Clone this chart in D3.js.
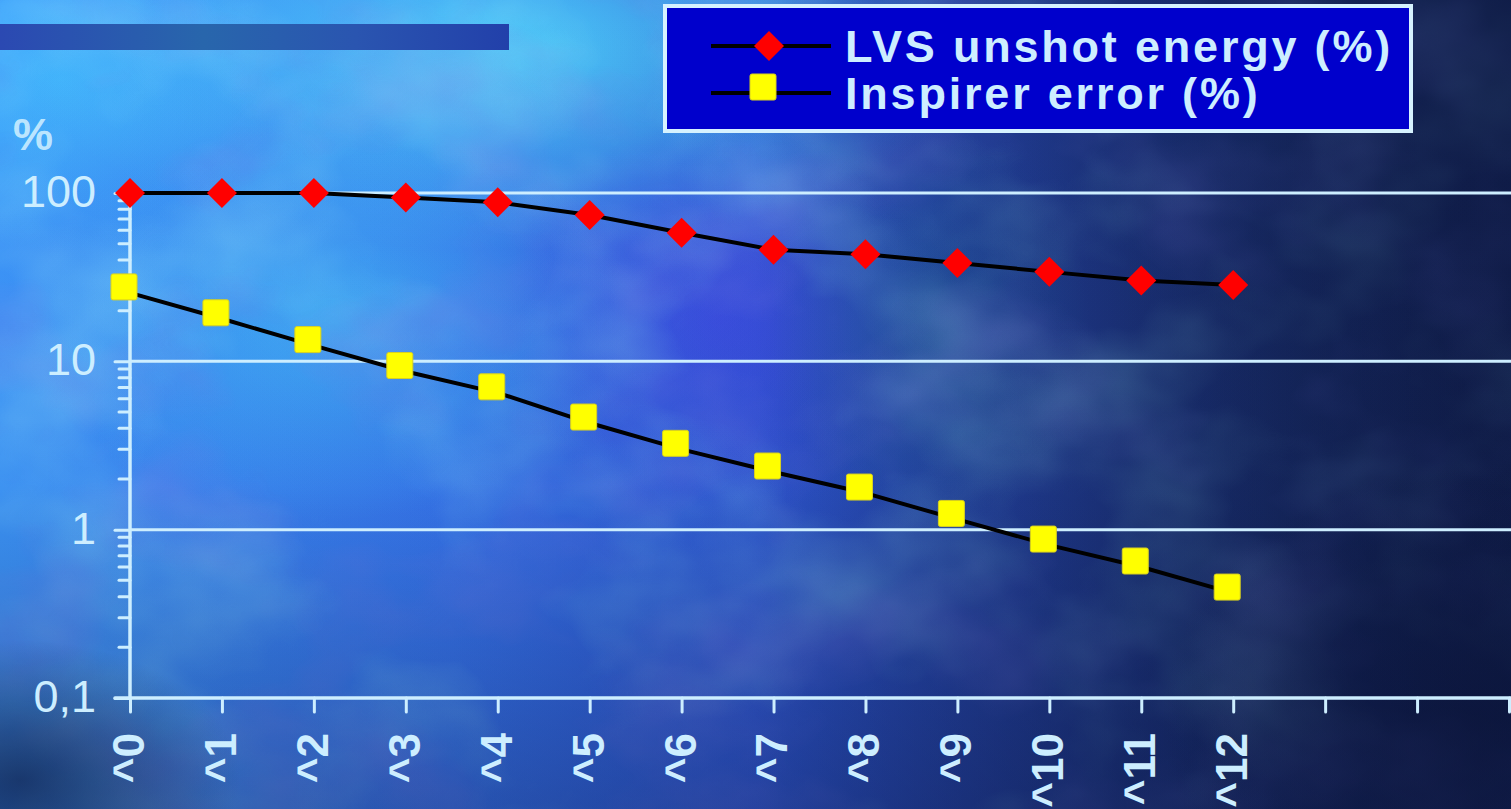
<!DOCTYPE html>
<html>
<head>
<meta charset="utf-8">
<script src="https://cdn.jsdelivr.net/npm/d3@7"></script>
<style>
  html, body { margin: 0; padding: 0; overflow: hidden; background: #2a5ad8; }
  svg { display: block; }
</style>
</head>
<body>
<svg id="chart" width="1511" height="809"></svg>
<script>
// ---- data ----
const categories = ["^0", "^1", "^2", "^3", "^4", "^5", "^6", "^7", "^8", "^9", "^10", "^11", "^12"];
const slotCount = 15; // category slots on the x axis (the last ones are empty)
const lvsUnshotEnergy = [100, 100, 100, 94, 88, 74, 58, 46, 43.3, 38.4, 34, 30.2, 28.4];
const inspirerError = [25.5, 17.9, 12.4, 8.7, 6.5, 4.3, 3.0, 2.2, 1.65, 1.15, 0.81, 0.60, 0.42];
const yTickValues = [0.1, 1, 10, 100];
const yTickLabels = ["0,1", "1", "10", "100"];
const seriesNames = ["LVS unshot energy (%)", "Inspirer error (%)"];
const yUnit = "%";

// ---- layout ----
const W = 1511, H = 809;
const plot = { left: 130, right: 1509, top: 193, bottom: 698 };
const light = "#cdeeff";
const font = "'Liberation Sans', Arial, Helvetica, sans-serif";
const squareShift = -6;   // square markers sit slightly up-left of their points

const svg = d3.select("#chart");
const defs = svg.append("defs");

// ---- background ----
const base = defs.append("linearGradient").attr("id", "bgBase")
  .attr("x1", 0).attr("y1", 0).attr("x2", 1).attr("y2", 0);
[[0, "#3d96fa"], [0.3, "#3878f2"], [0.5, "#2f5ad8"], [0.68, "#2544a6"], [0.85, "#1a3070"], [1, "#101b45"]]
  .forEach(([o, c]) => base.append("stop").attr("offset", o).attr("stop-color", c));

const vshade = defs.append("linearGradient").attr("id", "vShade")
  .attr("x1", 0).attr("y1", 0).attr("x2", 0).attr("y2", 1);
[[0, "#0a1540", 0], [0.6, "#0a1540", 0.05], [1, "#0a1540", 0.35]]
  .forEach(([o, c, a]) => vshade.append("stop").attr("offset", o).attr("stop-color", c).attr("stop-opacity", a));

function glow(id, color, op) {
  const g = defs.append("radialGradient").attr("id", id);
  g.append("stop").attr("offset", 0).attr("stop-color", color).attr("stop-opacity", op);
  g.append("stop").attr("offset", 1).attr("stop-color", color).attr("stop-opacity", 0);
}
glow("glowCyan", "#4fd6ff", 0.95);
glow("glowCyanSoft", "#46c6ff", 0.65);
glow("glowViolet", "#4848f2", 0.55);
glow("glowNavy", "#0b1438", 0.6);
glow("glowTeal", "#2a7aa8", 0.45);

const fCyan = defs.append("filter").attr("id", "cloudCyan")
  .attr("x", 0).attr("y", 0).attr("width", 1).attr("height", 1);
fCyan.append("feTurbulence").attr("type", "fractalNoise")
  .attr("baseFrequency", "0.0045 0.006").attr("numOctaves", 4).attr("seed", 7);
fCyan.append("feColorMatrix").attr("type", "matrix")
  .attr("values", "0 0 0 0 0.3  0 0 0 0 0.8  0 0 0 0 1  2.6 0 0 0 -1.15");

const fViolet = defs.append("filter").attr("id", "cloudViolet")
  .attr("x", 0).attr("y", 0).attr("width", 1).attr("height", 1);
fViolet.append("feTurbulence").attr("type", "fractalNoise")
  .attr("baseFrequency", "0.005 0.007").attr("numOctaves", 4).attr("seed", 21);
fViolet.append("feColorMatrix").attr("type", "matrix")
  .attr("values", "0 0 0 0 0.2  0 0 0 0 0.22  0 0 0 0 0.85  0 2.6 0 0 -1.2");

const rightFade = defs.append("linearGradient").attr("id", "rightFade")
  .attr("x1", 0).attr("y1", 0).attr("x2", 1).attr("y2", 0);
[[0, 0], [0.5, 0.05], [0.75, 0.4], [1, 0.75]]
  .forEach(([o, a]) => rightFade.append("stop").attr("offset", o).attr("stop-color", "#0f1c48").attr("stop-opacity", a));

const bg = svg.append("g");
bg.append("rect").attr("width", W).attr("height", H).attr("fill", "url(#bgBase)");
bg.append("ellipse").attr("cx", 500).attr("cy", 50).attr("rx", 480).attr("ry", 200).attr("fill", "url(#glowCyan)");
bg.append("ellipse").attr("cx", 330).attr("cy", 320).attr("rx", 300).attr("ry", 200).attr("fill", "url(#glowCyanSoft)");
bg.append("ellipse").attr("cx", 60).attr("cy", 80).attr("rx", 220).attr("ry", 170).attr("fill", "url(#glowCyanSoft)");
bg.append("ellipse").attr("cx", 720).attr("cy", 320).attr("rx", 220).attr("ry", 200).attr("fill", "url(#glowViolet)");
bg.append("ellipse").attr("cx", 930).attr("cy", 330).attr("rx", 160).attr("ry", 200).attr("fill", "url(#glowTeal)");
bg.append("rect").attr("width", W).attr("height", H).attr("filter", "url(#cloudCyan)").attr("opacity", 0.35);
bg.append("rect").attr("width", W).attr("height", H).attr("filter", "url(#cloudViolet)").attr("opacity", 0.35);
bg.append("rect").attr("width", W).attr("height", H).attr("fill", "url(#rightFade)");
bg.append("rect").attr("width", W).attr("height", H).attr("fill", "url(#vShade)");
bg.append("ellipse").attr("cx", 1480).attr("cy", 720).attr("rx", 320).attr("ry", 260).attr("fill", "url(#glowNavy)");
bg.append("ellipse").attr("cx", 20).attr("cy", 780).attr("rx", 220).attr("ry", 140).attr("fill", "url(#glowNavy)");

// title bar at top-left
const bar = defs.append("linearGradient").attr("id", "titleBar")
  .attr("x1", 0).attr("y1", 0).attr("x2", 1).attr("y2", 0);
[[0, "#2b49b2"], [0.4, "#2866ac"], [0.7, "#2a55b0"], [1, "#2240aa"]]
  .forEach(([o, c]) => bar.append("stop").attr("offset", o).attr("stop-color", c));
svg.append("rect").attr("x", 0).attr("y", 24).attr("width", 509).attr("height", 26).attr("fill", "url(#titleBar)");

// ---- scales ----
const x = d3.scaleLinear().domain([0, slotCount]).range([plot.left, plot.right]);
const y = d3.scaleLog().domain([0.1, 100]).range([plot.bottom, plot.top]);

// ---- gridlines ----
svg.append("g").selectAll("line")
  .data(yTickValues.filter(v => v > 0.1))
  .join("line")
  .attr("x1", plot.left).attr("x2", W)
  .attr("y1", d => y(d)).attr("y2", d => y(d))
  .attr("stroke", light).attr("stroke-width", 3);

// ---- y axis ----
const yAxis = svg.append("g").attr("transform", `translate(${plot.left},0)`)
  .call(d3.axisLeft(y).tickValues(yTickValues)
    .tickFormat((d, i) => yTickLabels[i]).tickSize(15).tickSizeOuter(0).tickPadding(19));
yAxis.select(".domain").remove();
yAxis.selectAll(".tick line").attr("stroke", light).attr("stroke-width", 3).attr("stroke-linecap", "round");
yAxis.selectAll(".tick text")
  .attr("fill", light).attr("font-family", font).attr("font-size", 45)
  .attr("dy", "0.3em");

// minor ticks between decades
svg.append("g").selectAll("line")
  .data(y.ticks().filter(v => !yTickValues.some(t => Math.abs(t - v) < 1e-9)))
  .join("line")
  .attr("x1", plot.left - 11).attr("x2", plot.left)
  .attr("y1", d => y(d)).attr("y2", d => y(d))
  .attr("stroke", light).attr("stroke-width", 3).attr("stroke-linecap", "round");

svg.append("line")
  .attr("x1", plot.left).attr("x2", plot.left)
  .attr("y1", plot.top).attr("y2", plot.bottom)
  .attr("stroke", light).attr("stroke-width", 3.5);

// unit label
svg.append("text").attr("x", 13).attr("y", 150)
  .attr("fill", light).attr("fill-opacity", 0.9)
  .attr("font-family", font).attr("font-weight", "bold").attr("font-size", 45)
  .text(yUnit);

// ---- x axis ----
const xAxis = svg.append("g").attr("transform", `translate(0,${plot.bottom})`)
  .call(d3.axisBottom(x).tickValues(d3.range(slotCount + 1))
    .tickFormat(i => categories[i] || "").tickSize(14).tickSizeOuter(0));
xAxis.select(".domain").remove();
xAxis.selectAll(".tick line").attr("stroke", light).attr("stroke-width", 3).attr("stroke-linecap", "round");
xAxis.selectAll(".tick text")
  .attr("fill", light).attr("font-family", font).attr("font-weight", "bold").attr("font-size", 44)
  .attr("text-anchor", "end")
  .attr("transform", "rotate(-90)")
  .attr("x", -35).attr("y", -2).attr("dy", "0.35em");

svg.append("line")
  .attr("x1", plot.left - 15).attr("x2", W)
  .attr("y1", plot.bottom).attr("y2", plot.bottom)
  .attr("stroke", light).attr("stroke-width", 3.5).attr("stroke-linecap", "round");

// ---- series ----
const line = d3.line().x((d, i) => x(i)).y(d => y(d));
const diamond = "M0,-15L15,0L0,15L-15,0Z";

[lvsUnshotEnergy, inspirerError].forEach(values => {
  svg.append("path").datum(values)
    .attr("d", line).attr("fill", "none")
    .attr("stroke", "#000").attr("stroke-width", 4).attr("stroke-linejoin", "round");
});

svg.append("g").selectAll("path")
  .data(lvsUnshotEnergy).join("path")
  .attr("d", diamond)
  .attr("transform", (d, i) => `translate(${x(i)},${y(d)})`)
  .attr("fill", "#ff0000");

svg.append("g").selectAll("rect")
  .data(inspirerError).join("rect")
  .attr("x", (d, i) => x(i) + squareShift - 13)
  .attr("y", d => y(d) + squareShift - 13)
  .attr("width", 26).attr("height", 26).attr("rx", 2)
  .attr("fill", "#ffff00").attr("stroke", "#d8d020").attr("stroke-width", 1);

// ---- legend ----
const legend = svg.append("g");
legend.append("rect").attr("x", 665).attr("y", 6).attr("width", 746).attr("height", 125)
  .attr("fill", "#0000cc").attr("stroke", "#d6f2ff").attr("stroke-width", 4);

const legendRows = [46, 93];
const legendMarkerX = 769;
legendRows.forEach((ly, i) => {
  legend.append("line").attr("x1", 711).attr("x2", 831).attr("y1", ly).attr("y2", ly)
    .attr("stroke", "#000").attr("stroke-width", 4);
  legend.append("text").attr("x", 845).attr("y", ly + 16)
    .attr("fill", light).attr("font-family", font).attr("font-weight", "bold")
    .attr("font-size", 45).attr("letter-spacing", 2.8)
    .text(seriesNames[i]);
});
legend.append("path").attr("d", diamond)
  .attr("transform", `translate(${legendMarkerX},${legendRows[0]})`).attr("fill", "#ff0000");
legend.append("rect")
  .attr("x", legendMarkerX + squareShift - 13).attr("y", legendRows[1] + squareShift - 13)
  .attr("width", 26).attr("height", 26).attr("rx", 2)
  .attr("fill", "#ffff00").attr("stroke", "#d8d020").attr("stroke-width", 1);
</script>
</body>
</html>
